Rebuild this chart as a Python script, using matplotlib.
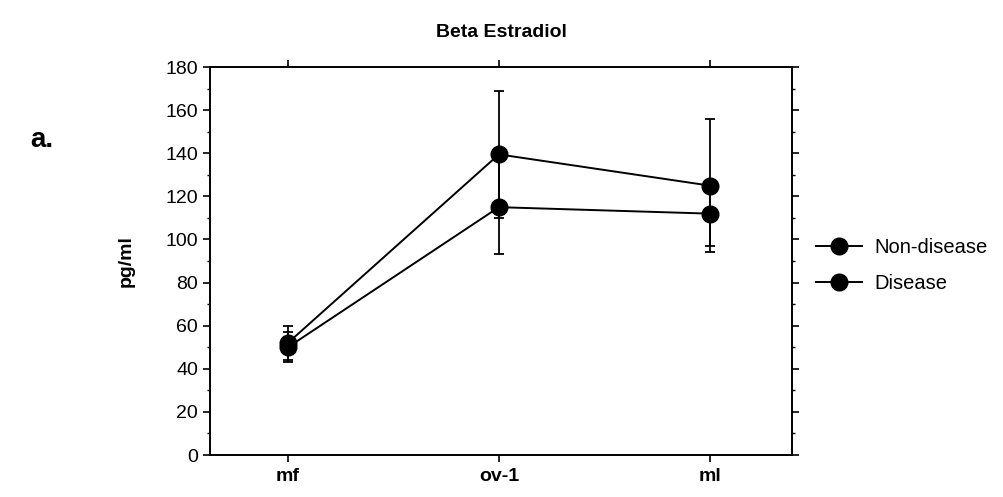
import matplotlib
matplotlib.use("Agg")
import matplotlib.pyplot as plt
from matplotlib.ticker import MultipleLocator
from matplotlib.lines import Line2D

plt.rcParams['font.family'] = ['Liberation Sans', 'DejaVu Sans']

categories = ["mf", "ov-1", "ml"]
series_names = ["Non-disease", "Disease"]
nondisease = [52, 139.5, 125]
nondisease_err = [8, 29.5, 31]
disease = [50, 115, 112]
disease_err = [7, 21.5, 15]
yticks = [0, 20, 40, 60, 80, 100, 120, 140, 160, 180]

fig = plt.figure(figsize=(10.04, 4.97), dpi=100)
ax = fig.add_axes([0.209, 0.0845, 0.58, 0.7805])

x = list(range(len(categories)))
for vals, errs in [(nondisease, nondisease_err), (disease, disease_err)]:
    ax.errorbar(x, vals, yerr=errs, color='black', marker='o',
                markersize=12, linewidth=1.4, elinewidth=1.3, capsize=3.5,
                capthick=1.3)

ax.set_xlim(-0.37, 2.39)
ax.set_ylim(0, 180)
ax.set_yticks(yticks)
ax.yaxis.set_minor_locator(MultipleLocator(10))
ax.set_xticks(x)
ax.set_xticklabels(categories, fontweight='bold', fontsize=14)
ax.tick_params(axis='y', labelsize=14, direction='out', length=5, width=1.2,
               right=True, which='major')
ax.tick_params(axis='y', which='minor', direction='out', length=2.5, width=1,
               right=True)
ax.tick_params(axis='x', direction='out', length=5, width=1.2, top=True, pad=4)
for s in ax.spines.values():
    s.set_linewidth(1.4)

ax.set_ylabel('pg/ml', fontweight='bold', fontsize=14, labelpad=22)
ax.set_title('Beta Estradiol', fontweight='bold', fontsize=14, pad=22)
fig.text(0.03, 0.705, 'a.', fontweight='bold', fontsize=20)

handles = [Line2D([], [], color='black', marker='o', markersize=12, linewidth=1.4)
           for _ in series_names]
leg = ax.legend(handles, series_names, loc='upper left',
                bbox_to_anchor=(1.01, 0.605), frameon=False,
                fontsize=14.5, handlelength=2.3, labelspacing=0.8,
                handletextpad=0.6)

fig.savefig('out.png', dpi=100)
